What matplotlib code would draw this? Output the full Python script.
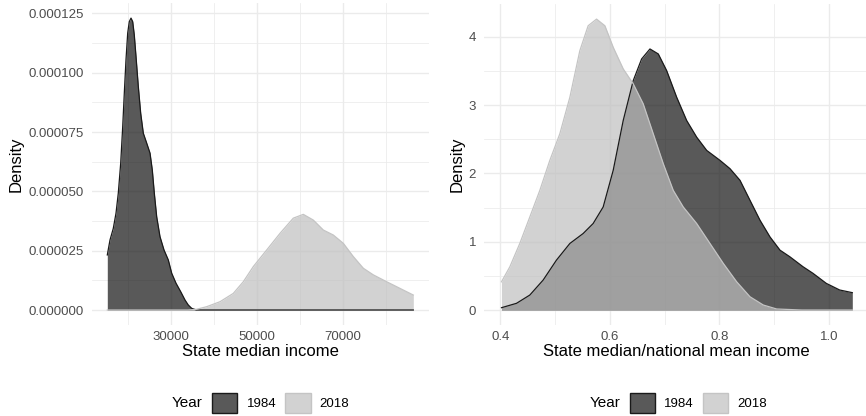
import numpy as np
import matplotlib.pyplot as plt
from matplotlib.patches import Patch
from matplotlib.colors import to_rgba

plt.rcParams['font.family'] = ['Liberation Sans', 'DejaVu Sans']

years = ['1984', '2018']

# panel 1: state median income (density values in units of 1e-5)
inc_x_1984 = [15256, 15884, 16650, 17280, 17810, 18370, 18840, 19210, 19600,
              20000, 20370, 20770, 21160, 21530, 21930, 22470, 23020, 23630,
              24420, 25190, 25720, 26190, 26740, 27510, 28440, 29440, 30230,
              31230, 32330, 33330, 34090, 34880, 36000, 45000, 55000, 65000,
              75000, 86420]
inc_d_1984 = np.array([2.32, 2.95, 3.44, 4.08, 4.92, 6.18, 7.73, 9.14, 10.54,
                       11.67, 12.15, 12.30, 12.15, 11.59, 10.68, 9.41, 8.29,
                       7.45, 7.03, 6.61, 5.90, 4.92, 3.93, 3.09, 2.53, 2.11,
                       1.55, 1.13, 0.77, 0.42, 0.21, 0.07, 0, 0, 0, 0, 0,
                       0]) * 1e-5
inc_x_2018 = [15256, 25000, 34000, 36000, 38370, 41470, 44560, 46880, 49210,
              52330, 55420, 58510, 60840, 63160, 65490, 67810, 70140, 72470,
              74790, 77120, 80230, 83330, 86420]
inc_d_2018 = np.array([0, 0, 0, 0.03, 0.14, 0.35, 0.70, 1.19, 1.83, 2.53, 3.23,
                       3.87, 4.03, 3.79, 3.37, 3.16, 2.81, 2.25, 1.76, 1.48,
                       1.19, 0.91, 0.63]) * 1e-5

# panel 2: state median / national mean income
rat_x_1984 = [0.4022, 0.4296, 0.4539, 0.4782, 0.5025, 0.527, 0.5513, 0.5695,
              0.5878, 0.6061, 0.6244, 0.6427, 0.658, 0.6732, 0.6884, 0.7037,
              0.722, 0.7402, 0.7585, 0.7768, 0.8011, 0.8193, 0.8376, 0.8558,
              0.8741, 0.8923, 0.9106, 0.9288, 0.9525, 0.9708, 0.9951, 1.0195,
              1.0426]
rat_d_1984 = [0.034, 0.098, 0.219, 0.438, 0.730, 0.974, 1.12, 1.266, 1.508,
              2.044, 2.774, 3.358, 3.675, 3.821, 3.748, 3.504, 3.114, 2.774,
              2.53, 2.336, 2.19, 2.069, 1.898, 1.606, 1.314, 1.07, 0.876,
              0.778, 0.634, 0.537, 0.39, 0.293, 0.254]
rat_x_2018 = [0.4022, 0.4174, 0.4356, 0.4539, 0.4722, 0.4904, 0.5087, 0.527,
              0.5452, 0.5604, 0.5757, 0.5909, 0.6062, 0.6244, 0.6427, 0.6609,
              0.6792, 0.6975, 0.7157, 0.734, 0.7585, 0.7828, 0.8071, 0.8315,
              0.8558, 0.8801, 0.9045, 0.95, 1.0, 1.0426]
rat_d_2018 = [0.413, 0.632, 0.974, 1.362, 1.752, 2.19, 2.58, 3.114, 3.796,
              4.161, 4.258, 4.161, 3.844, 3.529, 3.31, 3.018, 2.58, 2.142,
              1.752, 1.508, 1.266, 0.974, 0.682, 0.413, 0.194, 0.073, 0.015,
              0.0, 0.0, 0.0]

fill_cols = {'1984': '#121212', '2018': '#bfbfbf'}
line_cols = {'1984': '#1a1a1a', '2018': '#c4c4c4'}
ALPHA = 0.7
GRID = '#ebebeb'
TXT = '#4d4d4d'

W, H = 866, 416
fig = plt.figure(figsize=(W / 100, H / 100), dpi=100)


def px_axes(l, r, t, b):
    return fig.add_axes([l / W, (H - b) / H, (r - l) / W, (b - t) / H])


def style(ax):
    for s in ax.spines.values():
        s.set_visible(False)
    ax.set_axisbelow(True)
    ax.grid(which='major', color=GRID, lw=1.0)
    ax.grid(which='minor', color=GRID, lw=0.55)
    ax.tick_params(which='both', length=0, labelsize=9.5, labelcolor=TXT)
    ax.tick_params(axis='y', pad=6)
    ax.tick_params(axis='x', pad=4.5)


def draw(ax, series):
    for yr, x, d in series:
        ax.fill_between(x, d, color=fill_cols[yr], alpha=ALPHA, lw=0)
        ax.plot(x, d, color=line_cols[yr], lw=0.9, solid_joinstyle='round')


def legend(ax, left_px, year_right_px):
    handles = [Patch(facecolor=to_rgba(fill_cols[y], ALPHA),
                     edgecolor=line_cols[y], lw=1.0) for y in years]
    fig.legend(handles, years, ncol=2, frameon=False, fontsize=9.5,
               loc='center left', bbox_to_anchor=(left_px / W, 13 / H),
               borderpad=0, borderaxespad=0, handlelength=1.9,
               handleheight=1.9, handletextpad=0.7, columnspacing=0.7)
    fig.text(year_right_px / W, 13 / H, 'Year', ha='right', va='center',
             fontsize=11)


ax1 = px_axes(92.3, 428.6, 3.5, 324.6)
draw(ax1, [('1984', inc_x_1984, inc_d_1984), ('2018', inc_x_2018, inc_d_2018)])
style(ax1)
ax1.set_xlim(11767, 89977)
ax1.set_ylim(-6.15e-6, 1.2915e-4)
ax1.set_xticks([30000, 50000, 70000])
ax1.set_xticks([20000, 40000, 60000, 80000], minor=True)
yt = [0, 2.5e-5, 5e-5, 7.5e-5, 1e-4, 1.25e-4]
ax1.set_yticks(yt)
ax1.set_yticklabels(['%.6f' % v for v in yt])
ax1.set_yticks([1.25e-5, 3.75e-5, 6.25e-5, 8.75e-5, 1.125e-4], minor=True)
ax1.set_xticklabels(['30000', '50000', '70000'])
ax1.set_xlabel('State median income', fontsize=12, labelpad=1)
ax1.set_ylabel('Density', fontsize=12)
ax1.yaxis.set_label_coords(-0.203, 0.5)
legend(ax1, 212.3, 202.3)

ax2 = px_axes(484.3, 868.3, 3.7, 324.6)
draw(ax2, [('1984', rat_x_1984, rat_d_1984), ('2018', rat_x_2018, rat_d_2018)])
style(ax2)
ax2.set_xlim(0.3708, 1.0718)
ax2.set_ylim(-0.2135, 4.4835)
ax2.set_xticks([0.4, 0.6, 0.8, 1.0])
ax2.set_xticklabels(['0.4', '0.6', '0.8', '1.0'])
ax2.set_xticks([0.5, 0.7, 0.9], minor=True)
ax2.set_yticks([0, 1, 2, 3, 4])
ax2.set_yticks([0.5, 1.5, 2.5, 3.5], minor=True)
ax2.set_xlabel('State median/national mean income', fontsize=12, labelpad=1)
ax2.set_ylabel('Density', fontsize=12)
ax2.yaxis.set_label_coords(-0.050, 0.5)
legend(ax2, 629.7, 620.3)

fig.savefig('out.png', dpi=100)
